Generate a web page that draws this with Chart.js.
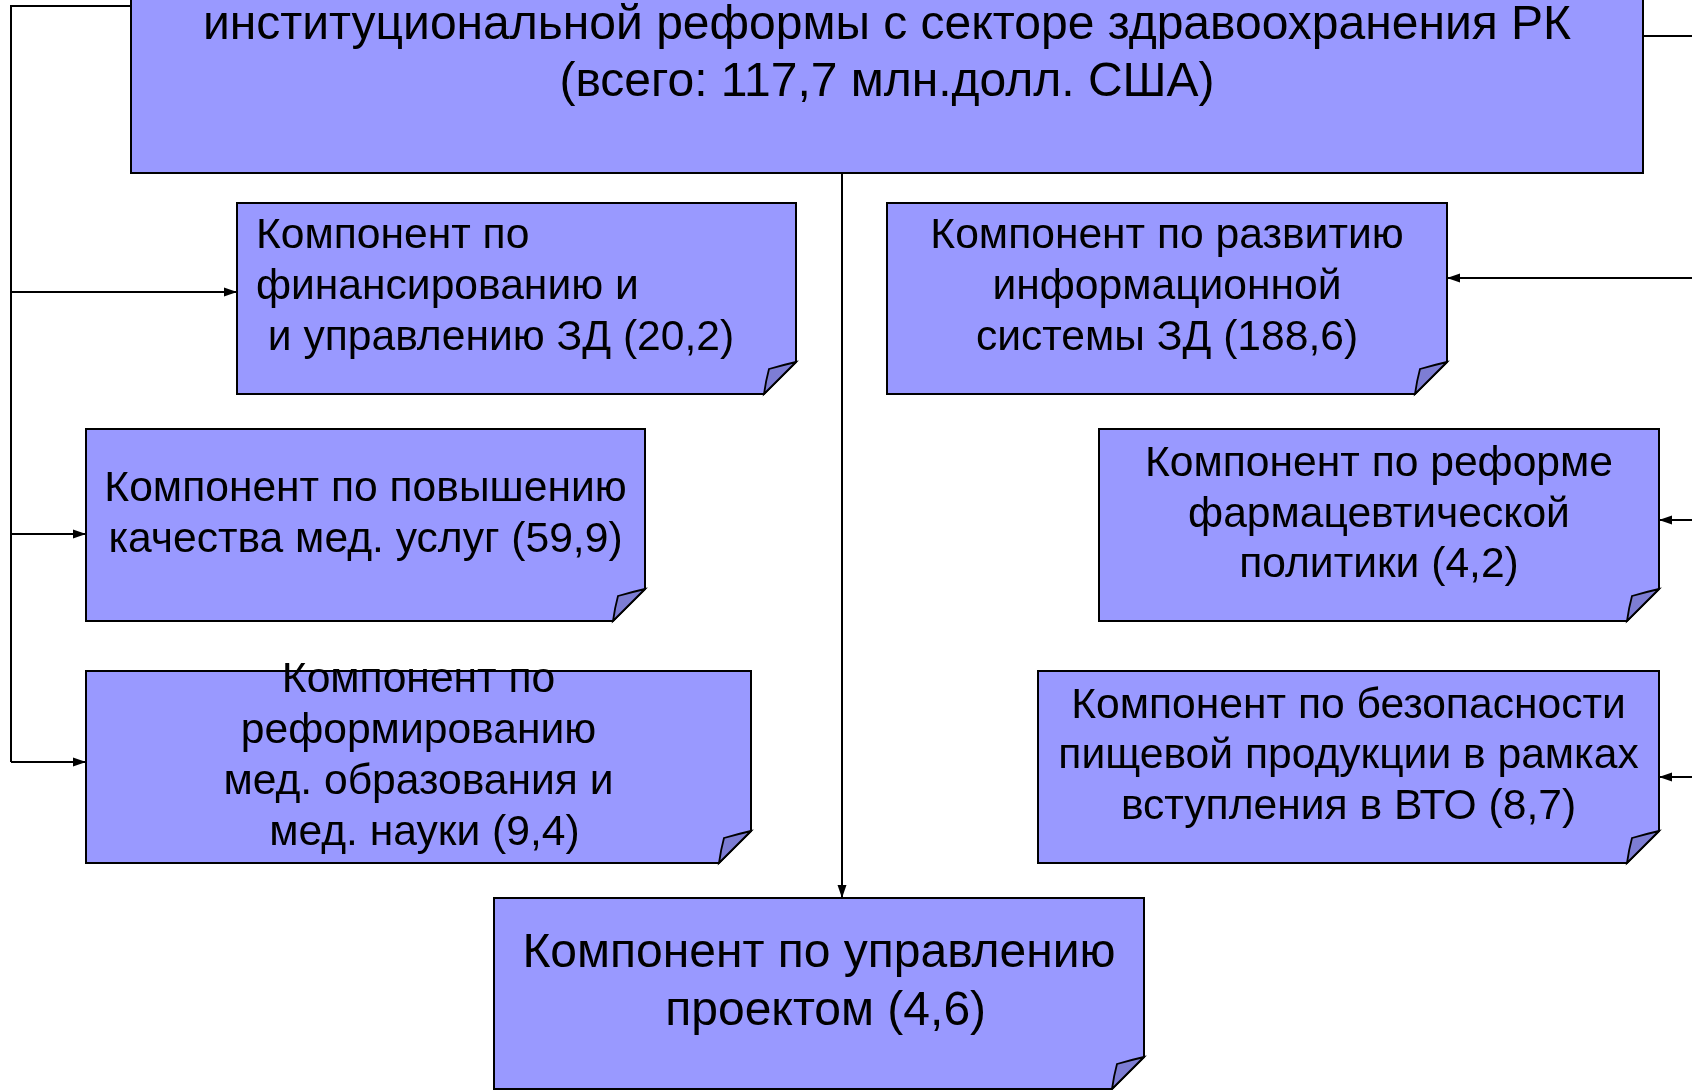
<!DOCTYPE html>
<html><head><meta charset="utf-8">
<script src="https://cdn.jsdelivr.net/npm/chart.js@4/dist/chart.umd.min.js"></script>
<style>html,body{margin:0;padding:0;background:#fff;overflow:hidden}#wrap{width:1692px;height:1090px;position:relative}</style>
</head><body><div id="wrap"><canvas id="c"></canvas></div>
<script>
// ---- data ----
const totalText = ['институциональной реформы с секторе здравоохранения РК', '(всего: {v} млн.долл. США)'];
const totalValue = 117.7;
const componentTexts = [
  ['Компонент по', 'финансированию и', ' и управлению ЗД ({v})'],
  ['Компонент по развитию', 'информационной', 'системы ЗД ({v})'],
  ['Компонент по повышению', 'качества мед. услуг ({v})'],
  ['Компонент по реформе', 'фармацевтической', 'политики ({v})'],
  ['Компонент по', 'реформированию', 'мед. образования и', ' мед. науки ({v})'],
  ['Компонент по безопасности', 'пищевой продукции в рамках', 'вступления в ВТО ({v})'],
  ['Компонент по управлению', ' проектом ({v})']
];
const componentValues = [20.2, 188.6, 59.9, 4.2, 9.4, 8.7, 4.6];

// ---- layout (diagram coordinates, used through the chart scales) ----
const topBox = {x0: 131, x1: 1643, y0: -80, y1: 173, font: 48, base: [39, 96], fold: false};
const compBoxes = [
  {x0: 237, x1: 796, y0: 203, y1: 394, font: 42.6, base: [248, 299, 350], align: 'left', tx: 256},
  {x0: 887, x1: 1447, y0: 203, y1: 394, font: 42.6, base: [248, 299, 350]},
  {x0: 86, x1: 645, y0: 429, y1: 621, font: 42.6, base: [501, 552]},
  {x0: 1099, x1: 1659, y0: 429, y1: 621, font: 42.6, base: [476, 527, 577]},
  {x0: 86, x1: 751, y0: 671, y1: 863, font: 42.6, base: [692, 743, 794, 845]},
  {x0: 1038, x1: 1659, y0: 671, y1: 863, font: 42.6, base: [718, 768, 819]},
  {x0: 494, x1: 1144, y0: 898, y1: 1089, font: 48, base: [967, 1025]}
];
const connectors = [
  {pts: [[131, 6], [11, 6], [11, 762]]},
  {pts: [[11, 292], [237, 292]], arrow: true},
  {pts: [[11, 534], [86, 534]], arrow: true},
  {pts: [[11, 762], [86, 762]], arrow: true},
  {pts: [[1643, 36], [1692, 36]]},
  {pts: [[1692, 278], [1447, 278]], arrow: true},
  {pts: [[1692, 520], [1659, 520]], arrow: true},
  {pts: [[1692, 777], [1659, 777]], arrow: true},
  {pts: [[842, 173], [842, 898]], arrow: true}
];

const fmt = v => v.toFixed(1).replace('.', ',');
const FONT = '"Liberation Sans", Arial, Helvetica, sans-serif';
const FILL = '#9999FF', FLAP = '#7D7DD4';

const diagramPlugin = {
  id: 'diagram',
  afterDatasetsDraw(chart) {
    const ctx = chart.ctx, X = chart.scales.x, Y = chart.scales.y;
    const px = v => X.getPixelForValue(v), py = v => Y.getPixelForValue(v);

    // arrowheads
    connectors.forEach(c => {
      if (!c.arrow) return;
      const a = c.pts[c.pts.length - 2], b = c.pts[c.pts.length - 1];
      const ax = px(a[0]), ay = py(a[1]), bx = px(b[0]), by = py(b[1]);
      const ang = Math.atan2(by - ay, bx - ax), L = 13, W = 4.5;
      ctx.save();
      ctx.translate(bx, by); ctx.rotate(ang);
      ctx.beginPath(); ctx.moveTo(0, 0); ctx.lineTo(-L, -W); ctx.lineTo(-L, W); ctx.closePath();
      ctx.fillStyle = '#000'; ctx.fill();
      ctx.restore();
    });

    const drawBox = (b, lines) => {
      const x0 = px(b.x0), x1 = px(b.x1), y0 = py(b.y0), y1 = py(b.y1);
      const f = b.fold === false ? 0 : 32;
      ctx.save();
      ctx.lineJoin = 'miter';
      ctx.beginPath();
      ctx.moveTo(x0, y0); ctx.lineTo(x1, y0); ctx.lineTo(x1, y1 - f);
      ctx.lineTo(x1 - f, y1); ctx.lineTo(x0, y1); ctx.closePath();
      ctx.fillStyle = FILL; ctx.fill();
      ctx.lineWidth = 2; ctx.strokeStyle = '#000'; ctx.stroke();
      if (f) {
        ctx.beginPath();
        ctx.moveTo(x1 - f, y1);
        ctx.quadraticCurveTo(x1 - f + 2, y1 - 14, x1 - 27, y1 - 25);
        ctx.quadraticCurveTo(x1 - 13, y1 - 29, x1, y1 - f);
        ctx.closePath();
        ctx.fillStyle = FLAP; ctx.fill();
        ctx.lineWidth = 1.8; ctx.stroke();
      }
      ctx.fillStyle = '#000';
      ctx.font = b.font + 'px ' + FONT;
      ctx.textBaseline = 'alphabetic';
      ctx.textAlign = b.align === 'left' ? 'left' : 'center';
      const tx = b.align === 'left' ? px(b.tx) : (x0 + x1) / 2;
      lines.forEach((t, i) => ctx.fillText(t, tx, py(b.base[i])));
      ctx.restore();
    };

    drawBox(topBox, totalText.map(t => t.replace('{v}', fmt(totalValue))));
    compBoxes.forEach((b, i) => drawBox(b, componentTexts[i].map(t => t.replace('{v}', fmt(componentValues[i])))));
  }
};

new Chart(document.getElementById('c'), {
  type: 'scatter',
  data: {
    datasets: connectors.map(c => ({
      data: c.pts.map(p => ({x: p[0], y: p[1]})),
      showLine: true, borderColor: '#000', borderWidth: 2,
      pointRadius: 0, pointHoverRadius: 0, clip: false, tension: 0
    }))
  },
  options: {
    responsive: true, maintainAspectRatio: false, animation: false, events: [],
    layout: {padding: 0},
    scales: {
      x: {type: 'linear', min: 0, max: 1692, display: false},
      y: {type: 'linear', min: 0, max: 1090, reverse: true, display: false}
    },
    plugins: {legend: {display: false}, tooltip: {enabled: false}}
  },
  plugins: [diagramPlugin]
});
</script></body></html>
